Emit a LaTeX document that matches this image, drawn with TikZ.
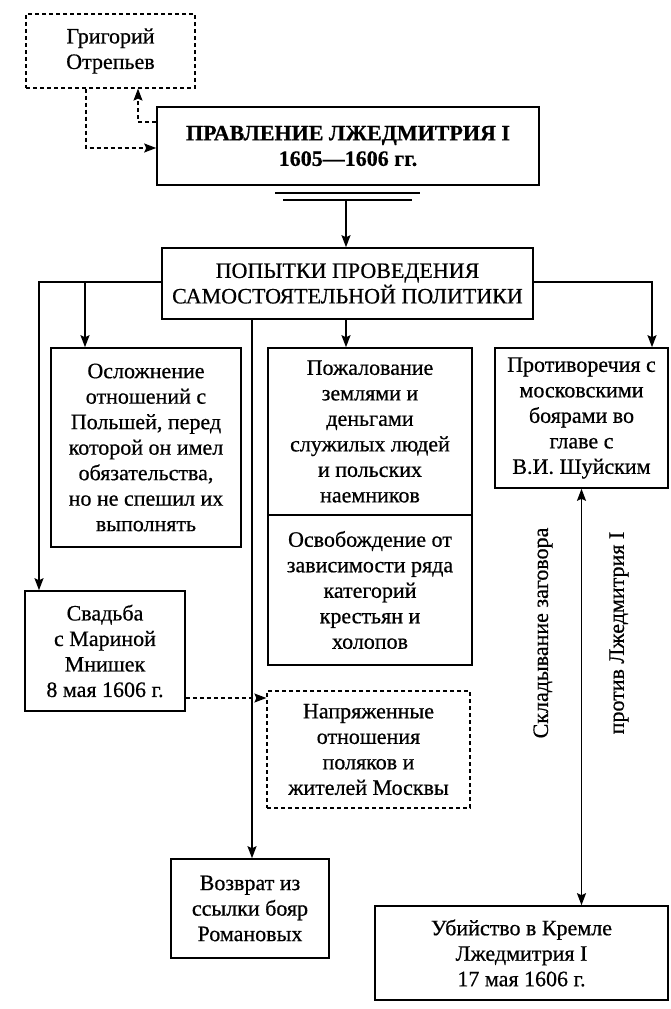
\documentclass[tikz,border=0pt]{standalone}
\usepackage{fontspec}
\setmainfont{Liberation Serif}[FakeBold=0.6]
\usetikzlibrary{arrows.meta}
\begin{document}
\begin{tikzpicture}[x=1pt,y=-1pt,
  every node/.style={font=\fontsize{22}{25.5}\selectfont, align=center, inner sep=0pt},
  box/.style={draw, line width=1.6pt, rectangle},
  dbox/.style={draw, line width=1.2pt, rectangle, dash pattern=on 4pt off 3pt},
  conn/.style={line width=1.5pt, -{Stealth[length=12pt,width=9pt,inset=2pt]}},
  dconn/.style={line width=1.2pt, dash pattern=on 4pt off 3pt, -{Stealth[length=12pt,width=9pt,inset=2pt]}},
  dbl/.style={line width=1.5pt, {Stealth[length=12pt,width=9pt,inset=2pt]}-{Stealth[length=12pt,width=9pt,inset=2pt]}},
  vlabel/.style={rotate=90}
]
\useasboundingbox (0,0) rectangle (671,1009);

\node[dbox, minimum width=169pt, minimum height=74pt] (grig) at (110.5,51) {Григорий\\Отрепьев};
\node[box, minimum width=382pt, minimum height=78pt] (main) at (348,146) {\bfseries ПРАВЛЕНИЕ ЛЖЕДМИТРИЯ I\\\bfseries 1605—1606 гг.};
\node[box, minimum width=371pt, minimum height=71pt] (pop) at (347.5,283.5) {ПОПЫТКИ ПРОВЕДЕНИЯ\\САМОСТОЯТЕЛЬНОЙ ПОЛИТИКИ};
\node[box, minimum width=190pt, minimum height=199pt] (osl) at (146,447.5) {Осложнение\\отношений с\\Польшей, перед\\которой он имел\\обязательства,\\но не спешил их\\выполнять};
\node[box, minimum width=204pt, minimum height=167pt] (poz) at (370,431.5) {Пожалование\\землями и\\деньгами\\служилых людей\\и польских\\наемников};
\node[box, minimum width=204pt, minimum height=150pt] (osv) at (370,590) {Освобождение от\\зависимости ряда\\категорий\\крестьян и\\холопов};
\node[box, minimum width=173pt, minimum height=140pt] (prot) at (581.5,418) {Противоречия с\\московскими\\боярами во\\главе с\\В.И. Шуйским};
\node[box, minimum width=160pt, minimum height=120pt] (svad) at (105,651) {Свадьба\\с Мариной\\Мнишек\\8 мая 1606 г.};
\node[dbox, minimum width=203pt, minimum height=117pt] (nap) at (368.5,749.5) {Напряженные\\отношения\\поляков и\\жителей Москвы};
\node[box, minimum width=158pt, minimum height=99pt] (voz) at (250,908.5) {Возврат из\\ссылки бояр\\Романовых};
\node[box, minimum width=293pt, minimum height=94pt] (ubi) at (521.5,953) {Убийство в Кремле\\Лжедмитрия I\\17 мая 1606 г.};

\node[vlabel] (lab1) at (543,633) {Складывание заговора};
\node[vlabel] (lab2) at (619,633) {против Лжедмитрия I};

% dashed links with Grigory
\draw[dconn] ([xshift=-24.5pt]grig.south) |- ([yshift=-2pt]main.west);
\draw[dconn] ([yshift=24pt]main.west) -| ([xshift=27.5pt]grig.south);

% double line under main box
\coordinate (d1a) at (275,193);
\coordinate (d1b) at (420,193);
\coordinate (d2a) at (283,200);
\coordinate (d2b) at (412,200);
\draw[line width=1.1pt] (d1a) -- (d1b);
\draw[line width=1.6pt] (d2a) -- (d2b);
\coordinate (dl) at (346,200);
\draw[conn] (dl) -- (dl |- pop.north);

% branches from pop
\draw[conn] ([yshift=1.5pt]pop.west) -| ([xshift=-66pt]svad.north);
\coordinate (b1) at (85,282);
\draw[conn] (b1) -- (b1 |- osl.north);
\draw[conn] ([yshift=1.5pt]pop.east) -| ([xshift=70.5pt]prot.north);
\draw[conn] ([xshift=-1.5pt]pop.south) -- ([xshift=-1.5pt]pop.south |- poz.north);
\draw[conn] ([xshift=2pt]voz.north |- pop.south) -- ([xshift=2pt]voz.north);

% wedding -> tension
\draw[dconn] ([yshift=-47pt]svad.east) -- ([yshift=-47pt]svad.east -| nap.west);

% conspiracy
\draw[dbl] (prot.south) -- (prot.south |- ubi.north);
\end{tikzpicture}
\end{document}
